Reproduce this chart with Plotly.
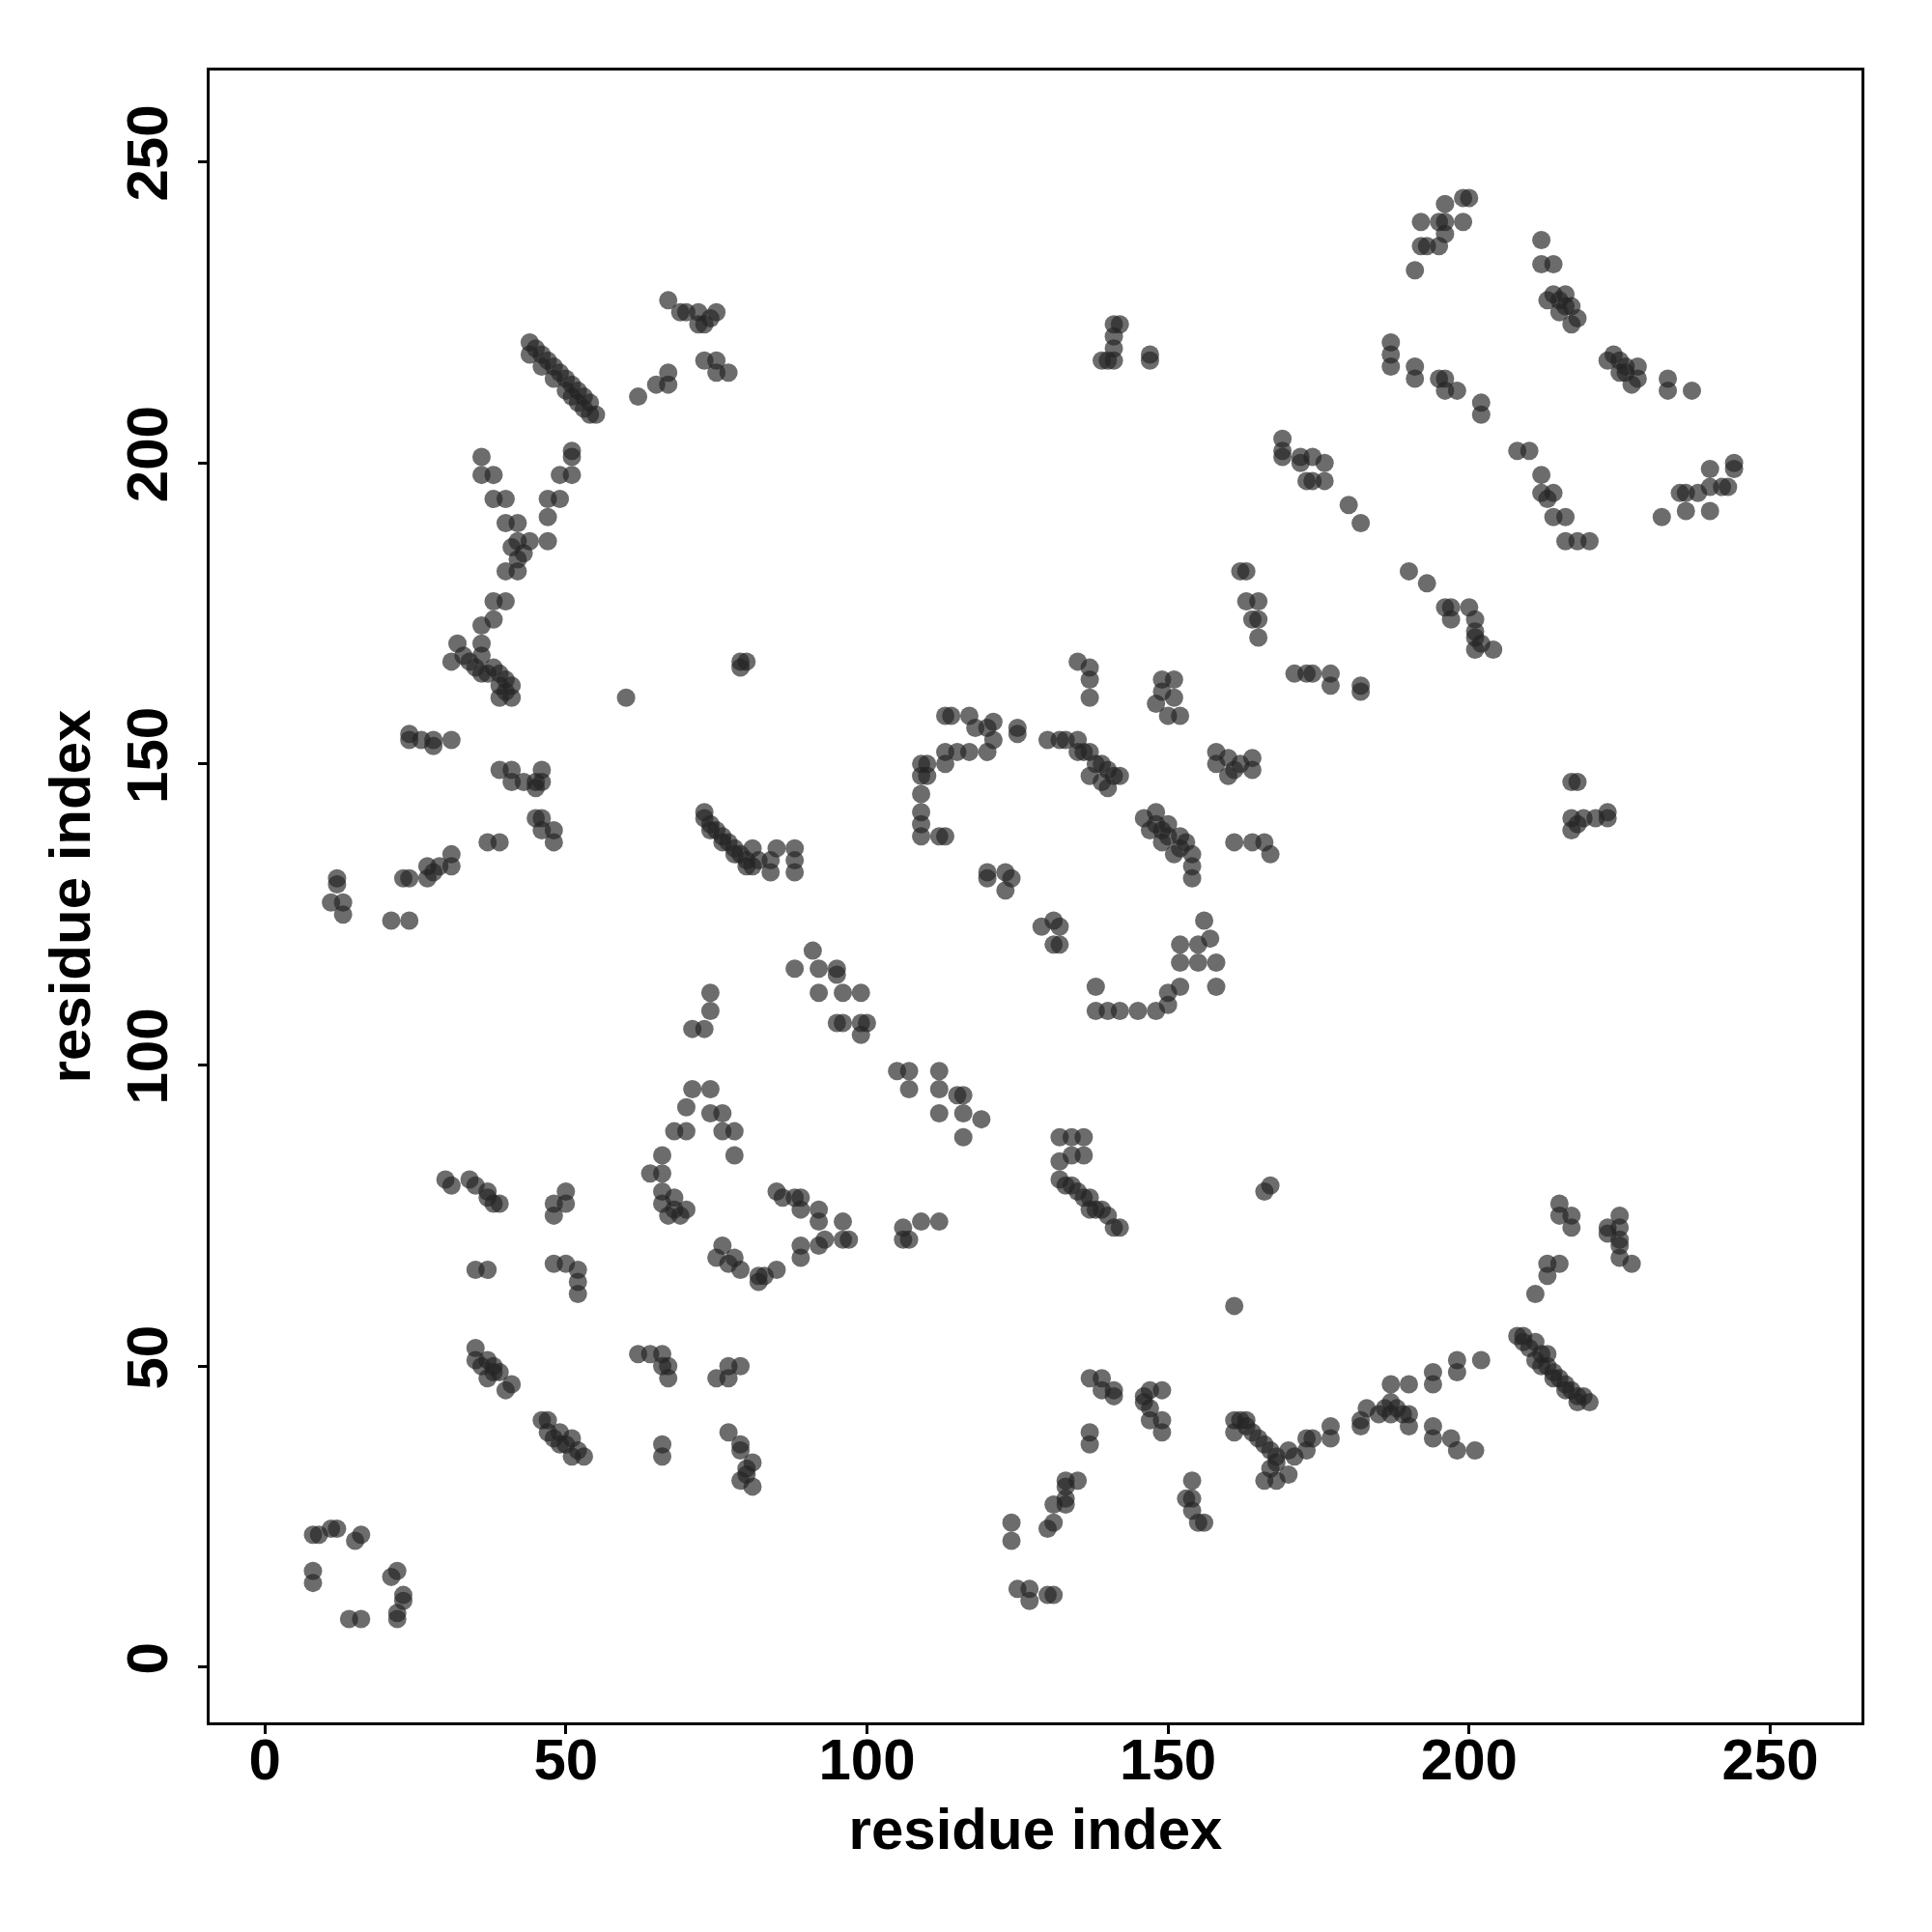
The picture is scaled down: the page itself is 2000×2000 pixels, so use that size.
import plotly.graph_objects as go

# contact pairs (residue i, residue j)
contacts = [
    # bottom-left ring
    (8,22),(9,22),(11,23),(12,23),(15,21),(16,22),(8,16),(8,14),(21,15),(22,16),(23,12),(23,11),(22,9),(22,8),(14,8),(16,8),
    # lower-left
    (30,81),(31,80),(34,81),(35,80),(37,79),(37,78),(38,77),(39,77),
    (35,66),(37,66),
    (48,77),(50,79),(50,77),(48,75),
    (48,67),(50,67),(52,66),(52,64),(52,62),
    (35,53),(35,51),(36,50),(37,51),(38,50),(38,49),(39,49),(37,48),(40,46),(41,47),
    (46,41),(47,41),(47,39),(48,38),(49,39),(49,37),(50,37),(51,38),(51,35),(52,36),(53,35),
    (62,52),(64,52),(66,52),(66,50),(67,50),(67,48),
    (66,37),(66,35),
    (75,48),(77,50),(79,50),(77,48),
    (77,39),(79,37),(79,36),(81,34),(80,33),(79,31),(81,30),(80,32),
    # ring 64-82
    (64,82),(66,82),(66,79),(68,78),(68,76),(70,76),(66,77),(67,75),(69,75),
    (75,68),(76,70),(77,67),(78,68),(79,66),(82,65),(82,64),
    (66,85),(68,89),(70,89),(70,93),(71,96),(74,96),(74,92),(76,92),(76,89),(78,89),(78,85),
    (74,112),(74,109),(71,106),(73,106),
    (85,79),(86,78),(88,78),(89,78),(89,76),(92,76),(92,74),(96,74),(89,70),(89,68),(92,70),(93,71),(96,71),(97,71),(85,66),(83,65),
    (106,73),(106,71),(107,71),(109,74),(112,74),
    (88,116),(91,119),(92,116),(95,116),(95,115),(92,112),(96,112),(99,112),(95,107),(96,107),(99,107),(100,107),(99,105),
    (105,99),(107,99),(107,96),(112,99),(112,96),(115,95),(116,95),(112,92),(116,92),(119,91),(116,88),
    # centre diagonal
    (132,88),(134,88),(136,88),(132,84),(134,85),(136,85),(132,81),(133,80),(134,80),(135,79),(136,78),(137,78),(137,76),(138,76),(139,76),(140,75),(141,73),(142,73),
    (166,79),(167,80),(161,60),
    # bottom middle
    (124,24),(124,21),
    (125,13),(127,13),(127,11),(130,12),(131,12),
    (130,23),(131,24),(131,27),(133,27),(133,28),(133,30),(133,31),(135,31),
    (137,48),(139,48),(139,46),(141,46),(141,45),
    (137,39),(137,37),
    (146,45),(147,46),(149,46),(146,44),(147,43),(147,41),(149,41),(149,39),
    (154,31),(153,28),(154,28),(154,26),(155,24),(156,24),
    (161,41),(162,41),(163,41),(163,40),(164,39),(165,38),(166,37),(167,36),(168,35),(170,36),(171,35),(168,34),(167,33),(168,31),(170,32),(166,31),(161,39),
    (173,38),(173,36),
    # bottom right
    (174,38),(177,40),(177,38),
    (182,41),(182,40),(183,43),(185,42),(186,43),(187,42),(187,44),(187,47),(188,43),(189,42),(190,42),(190,40),(190,47),
    (194,49),(194,47),(198,51),(198,49),(202,51),
    (194,40),(194,38),(197,38),(198,36),(201,36),
    (208,55),(209,55),(209,54),(210,53),(211,54),(211,51),(212,52),(212,50),(213,52),(213,50),(214,49),(214,48),(215,48),(216,47),(216,46),(217,46),(218,45),(218,44),(219,45),(220,44),
    (211,62),(213,65),(213,67),(215,67),
    (215,77),(215,75),(217,75),(217,73),
    (223,73),(223,72),(225,75),(225,73),(225,71),(225,70),(225,68),(227,67),
    # middle
    (110,150),(109,150),(110,148),(109,148),(109,145),(109,142),(109,140),(109,138),(112,138),(113,138),
    (113,152),(113,150),(115,152),(117,152),(113,158),(114,158),(117,158),(118,156),(120,156),(121,157),(121,154),(120,152),(125,156),(125,155),
    (120,132),(120,131),(123,132),(124,131),(123,129),
    (129,123),(131,124),(132,123),(131,120),(132,120),
    (135,167),(137,166),(137,164),(137,161),
    (149,164),(151,164),(149,162),(151,161),(152,158),(150,158),(148,160),
    (130,154),(132,154),(133,154),(135,154),(135,152),(136,152),(137,152),(137,148),(138,150),(139,150),(139,147),(140,149),(140,146),(141,148),(142,148),
    (158,152),(160,151),(162,150),(164,151),(164,149),(161,149),(160,148),(158,150),
    (146,141),(148,142),(147,139),(148,140),(149,139),(150,140),(150,138),(152,138),(153,137),(149,137),(152,136),(151,135),(154,135),(154,133),(154,131),
    (161,137),(164,137),(166,137),(167,135),
    (138,113),(138,109),(140,109),(142,109),(145,109),(148,109),(150,110),(150,112),(152,113),(152,117),(152,120),
    (156,124),(157,121),(155,120),(158,117),(155,117),(158,113),
    (84,132),(84,134),(85,136),(88,136),(88,134),(88,132),
    # upper left
    (73,142),(73,141),(74,140),(74,139),(75,139),(76,138),(76,137),(77,137),(78,136),(78,135),(79,135),(80,134),(80,133),(81,133),(81,136),(82,134),
    (79,167),(80,167),(79,166),
    (60,161),
    (24,155),(24,154),(26,154),(28,154),(28,153),(31,154),
    (39,149),(41,149),(41,147),(43,147),(45,147),(46,149),(46,147),(45,146),
    (45,141),(46,141),(46,139),(48,139),(48,137),
    (37,137),(39,137),
    (23,131),(24,131),(27,133),(27,131),(28,132),(29,133),(31,135),(31,133),
    (12,131),(12,130),(11,127),(13,127),(13,125),
    (21,124),(24,124),
    (32,170),(36,170),(31,167),(33,168),(34,167),(35,166),(36,168),(36,165),(37,165),(38,166),(39,165),(39,163),(40,164),(40,162),(41,163),(41,161),(39,161),
    (36,173),(38,174),(38,177),(40,177),(40,182),(42,182),
    (36,201),(36,198),(38,198),(38,194),(40,194),(40,190),(42,190),(41,186),(42,184),(43,185),(42,187),(44,187),(47,187),(47,191),(47,194),(49,194),(49,198),(51,198),(51,202),(51,201),
    (44,220),(44,218),(45,219),(46,218),(46,216),(47,217),(48,216),(48,214),(49,215),(50,214),(50,212),(51,213),(51,211),(52,212),(52,210),(53,211),(53,209),(54,210),(54,208),(55,208),
    (62,211),(65,213),(67,213),(67,215),
    (67,227),(69,225),(70,225),(72,225),(74,224),(75,225),(72,223),(73,223),
    (73,217),(75,217),(75,215),(77,215),
    # upper middle
    (141,223),(142,223),(141,221),(141,219),(139,217),(140,217),(141,217),
    (147,218),(147,217),
    (169,204),(169,202),(169,201),(172,201),(172,200),(173,197),
    (174,201),(176,200),(176,197),(174,197),(180,193),(182,190),
    (162,182),(163,182),
    (163,177),(165,177),(164,174),(165,174),(165,171),
    (171,165),(173,165),(174,165),(177,165),(177,163),(182,163),(182,162),
    # upper right
    (191,232),(192,236),(193,236),(195,236),(196,238),(192,240),(195,240),(196,240),(199,240),(196,243),(199,244),(200,244),
    (212,237),(212,233),(214,233),(213,227),(214,228),(216,228),(215,227),(216,226),(217,226),(215,225),(218,224),(217,223),
    (223,217),(224,218),(225,217),(226,216),(228,216),(225,215),(226,215),(227,213),(228,214),
    (233,214),(233,212),(237,212),
    (187,220),(187,218),(187,216),(191,216),(191,214),(195,214),(196,214),(196,212),(198,212),(202,210),(202,208),
    (208,202),(210,202),(212,198),(212,195),(213,194),(214,195),(214,191),(216,191),(216,187),(218,187),(220,187),
    (232,191),(235,195),(236,192),(236,195),(238,195),(240,192),(240,196),(242,196),(243,196),(240,199),(244,200),(244,199),
    (190,182),(193,180),(196,176),(197,176),(200,176),(197,174),(201,174),(201,172),(201,171),(201,169),(204,169),(202,170),
    (217,147),(218,147),(217,141),(218,140),(217,139),(219,141),(221,141),(223,142),(223,141),
]

residue_i = [c[0] for c in contacts]
residue_j = [c[1] for c in contacts]
tick_values = [0, 50, 100, 150, 200, 250]
axis_label = "residue index"

font_main = dict(family="Liberation Sans, Arial, sans-serif", size=60, color="black", weight="bold")

fig = go.Figure(go.Scatter(
    x=residue_i, y=residue_j, mode="markers",
    marker=dict(size=19, color="rgba(36,36,36,0.67)", line=dict(width=0)),
    hoverinfo="skip",
))

axis_common = dict(
    range=[-9.16, 265.16], tickvals=tick_values, ticktext=[str(v) for v in tick_values],
    ticks="outside", ticklen=9, tickwidth=2.5, tickcolor="black",
    showline=True, linewidth=2.5, linecolor="black", mirror=True,
    showgrid=False, zeroline=False, tickfont=font_main, automargin=False,
)

fig.update_layout(
    width=2000, height=2000,
    margin=dict(l=209, r=81, t=65, b=225, pad=0),
    paper_bgcolor="white", plot_bgcolor="white",
    showlegend=False,
    xaxis=dict(**axis_common, ticklabelstandoff=-25,
               title=dict(text=axis_label, font=font_main, standoff=19)),
    yaxis=dict(**axis_common, tickangle=-90, ticklabelstandoff=8,
               title=dict(text=axis_label, font=font_main, standoff=7)),
)

fig.write_html("out.html")
